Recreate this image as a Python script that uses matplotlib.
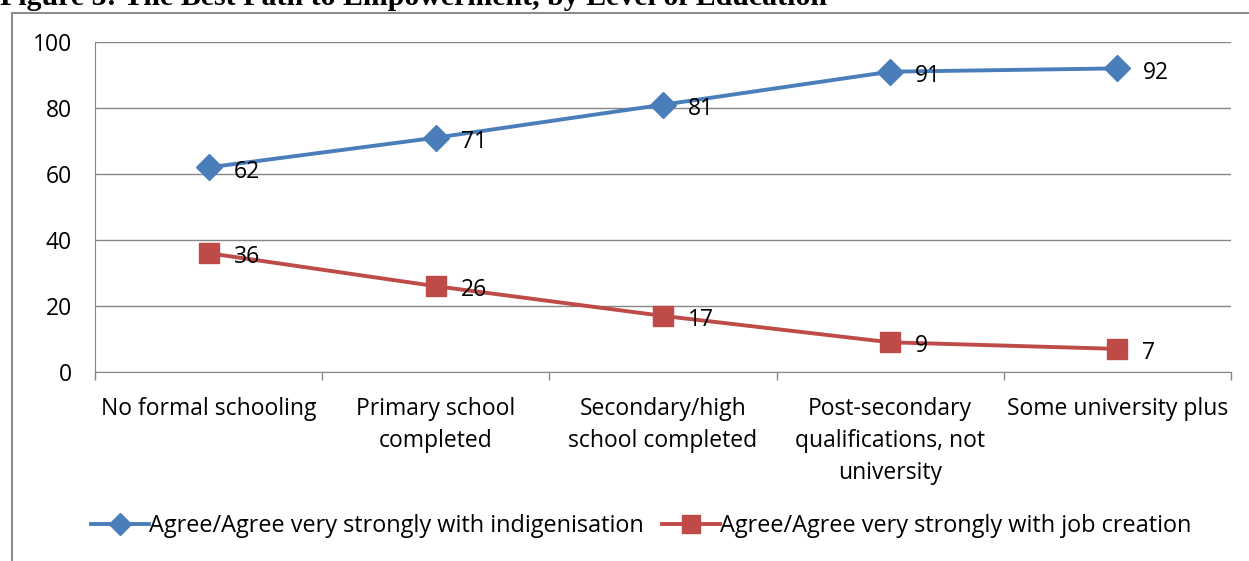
import matplotlib
matplotlib.use("Agg")
from matplotlib import pyplot as plt
from matplotlib.patches import Rectangle

categories = ["No formal schooling", "Primary school\ncompleted", "Secondary/high\nschool completed",
              "Post-secondary\nqualifications, not\nuniversity", "Some university plus"]
indigenisation = [62, 71, 81, 91, 92]
job_creation = [36, 26, 17, 9, 7]
series_names = ["Agree/Agree very strongly with indigenisation", "Agree/Agree very strongly with job creation"]
yticks = [0, 20, 40, 60, 80, 100]
title = "Figure 3: The Best Path to Empowerment, by Level of Education"

plt.rcParams['font.family'] = ['Open Sans', 'DejaVu Sans']
FS = 16.5

fig = plt.figure(figsize=(12.49, 5.61), dpi=100)
ax = fig.add_axes([95/1249, 1-372/561, (1231-95)/1249, 330/561])

# chart frame and the clipped caption above it
fig.patches.append(Rectangle((12/1249, -0.1), 1.2, 1-13/561+0.1, transform=fig.transFigure,
                             fill=False, edgecolor="#8c8c8c", linewidth=1.5))
fig.text(0.0, 1-5/561, title, family="Liberation Serif", weight="bold", fontsize=21.5,
         va="baseline", ha="left")

x = list(range(len(categories)))
ax.plot(x, indigenisation, color="#4a7ebb", lw=2.8, marker="D", ms=13, mec="#4a7ebb", label=series_names[0])
ax.plot(x, job_creation, color="#be4b48", lw=2.8, marker="s", ms=15, mec="#be4b48", label=series_names[1])
for xi, v in zip(x, indigenisation):
    ax.annotate(str(v), (xi, v), xytext=(18, -3), textcoords="offset points", va="center", ha="left", fontsize=FS)
for xi, v in zip(x, job_creation):
    ax.annotate(str(v), (xi, v), xytext=(18, -3), textcoords="offset points", va="center", ha="left", fontsize=FS)

ax.set_xlim(-0.5, len(categories)-0.5)
ax.set_ylim(0, 100)
ax.set_yticks(yticks)
ax.set_yticklabels([str(t) for t in yticks], fontsize=FS)
ax.tick_params(axis="y", length=0, pad=16.5)
ax.set_xticks(x)
ax.set_xticklabels(categories, fontsize=FS, linespacing=1.45, va="top")
ax.tick_params(axis="x", length=0, pad=18)
ax.set_xticks([i-0.5 for i in range(len(categories)+1)], minor=True)
ax.tick_params(axis="x", which="minor", length=6, color="#868686", width=1)
ax.grid(axis="y", color="#868686", lw=1)
for s in ["top", "right"]:
    ax.spines[s].set_visible(False)
ax.spines["left"].set_color("#868686")
ax.spines["bottom"].set_color("#868686")

ax.legend(loc="center", bbox_to_anchor=(641/1249, 1-526/561), bbox_transform=fig.transFigure,
          ncol=2, frameon=False, fontsize=16.9, handlelength=2.45, handletextpad=0.0, columnspacing=0.8,
          markerscale=0.85)

fig.savefig("out.png", dpi=100)
